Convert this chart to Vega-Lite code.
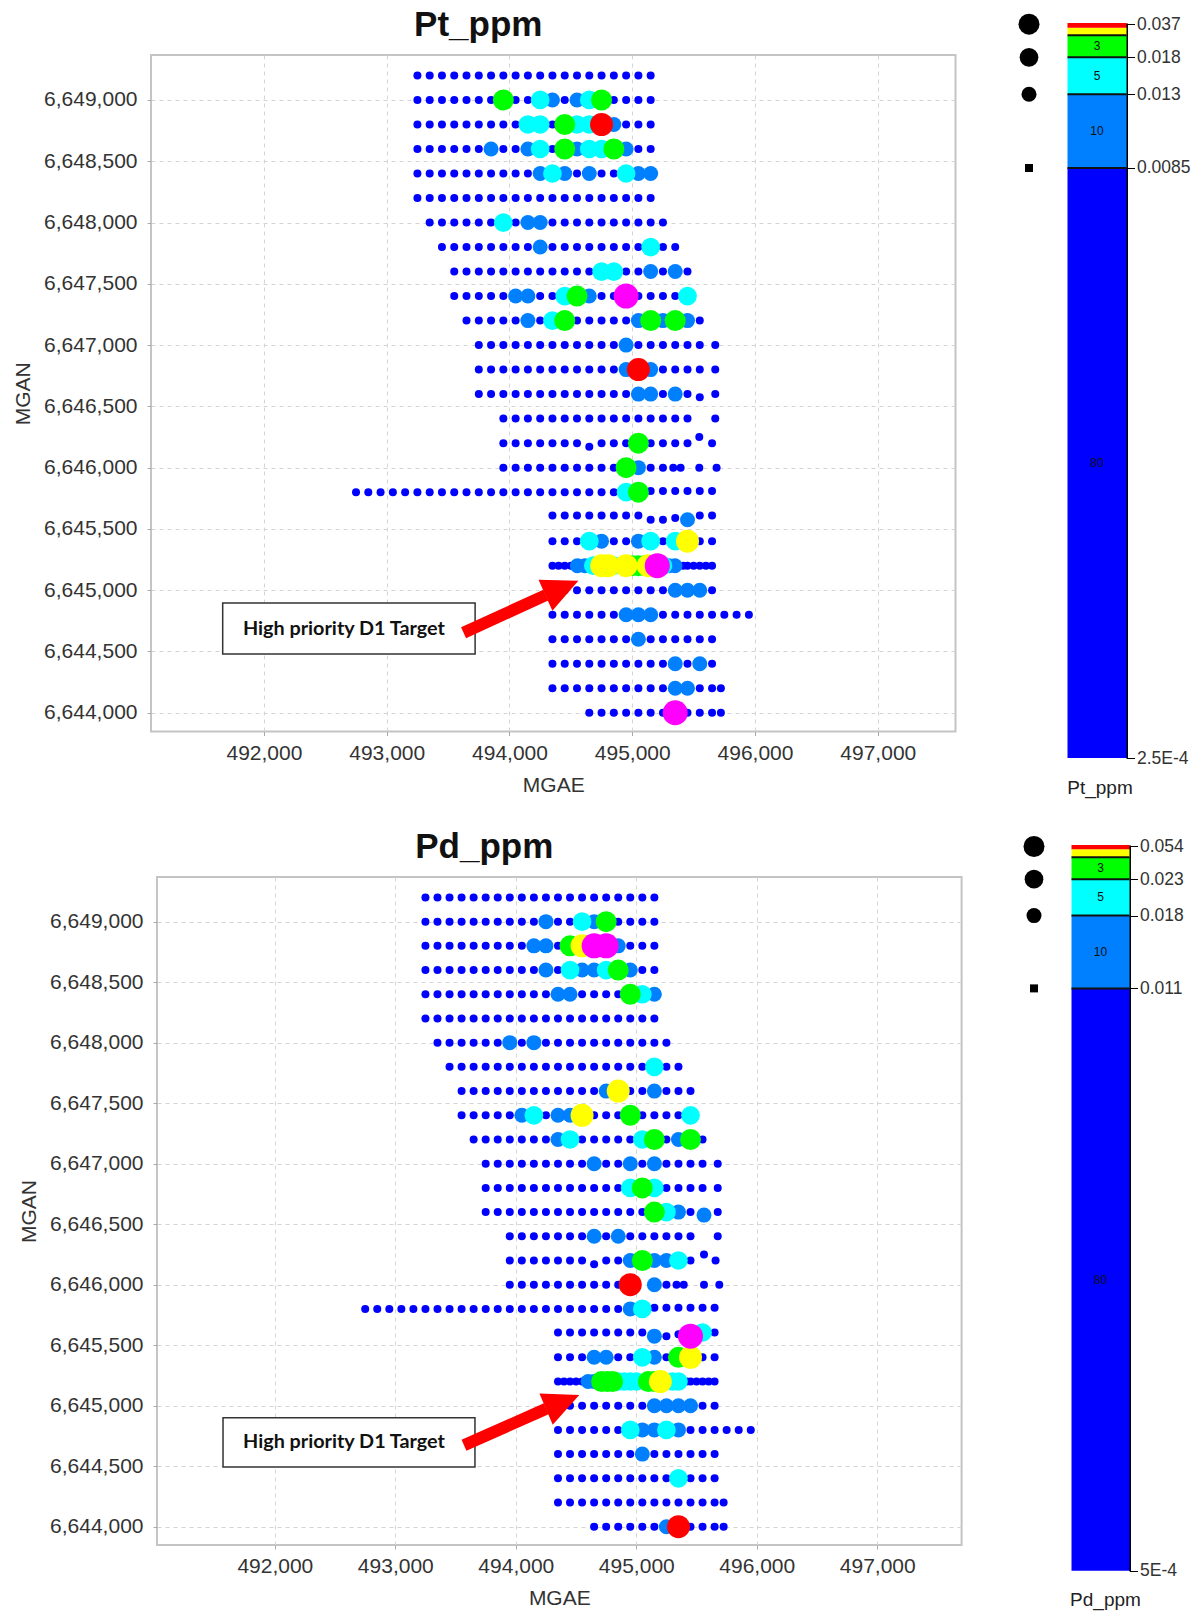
{"$schema":"https://vega.github.io/schema/vega-lite/v6.json","background":"white","padding":{"left":10,"top":7,"right":0,"bottom":0},"config":{"view":{"stroke":null},"font":"Liberation Sans"},"datasets":{"pt":[
{"e":493250,"n":6649200,"c":1},{"e":493350,"n":6649200,"c":1},{"e":493450,"n":6649200,"c":1},{"e":493550,"n":6649200,"c":1},{"e":493650,"n":6649200,"c":1},{"e":493750,"n":6649200,"c":1},{"e":493850,"n":6649200,"c":1},{"e":493950,"n":6649200,"c":1},{"e":494050,"n":6649200,"c":1},{"e":494150,"n":6649200,"c":1},{"e":494250,"n":6649200,"c":1},{"e":494350,"n":6649200,"c":1},{"e":494450,"n":6649200,"c":1},{"e":494550,"n":6649200,"c":1},{"e":494650,"n":6649200,"c":1},{"e":494750,"n":6649200,"c":1},{"e":494850,"n":6649200,"c":1},{"e":494950,"n":6649200,"c":1},{"e":495050,"n":6649200,"c":1},{"e":495150,"n":6649200,"c":1},
{"e":493250,"n":6649000,"c":1},{"e":493350,"n":6649000,"c":1},{"e":493450,"n":6649000,"c":1},{"e":493550,"n":6649000,"c":1},{"e":493650,"n":6649000,"c":1},{"e":493750,"n":6649000,"c":1},{"e":493850,"n":6649000,"c":1},{"e":493950,"n":6649000,"c":4},{"e":494050,"n":6649000,"c":1},{"e":494150,"n":6649000,"c":1},{"e":494250,"n":6649000,"c":3},{"e":494350,"n":6649000,"c":2},{"e":494450,"n":6649000,"c":1},{"e":494550,"n":6649000,"c":2},{"e":494650,"n":6649000,"c":3},{"e":494750,"n":6649000,"c":4},{"e":494850,"n":6649000,"c":1},{"e":494950,"n":6649000,"c":1},{"e":495050,"n":6649000,"c":1},{"e":495150,"n":6649000,"c":1},
{"e":493250,"n":6648800,"c":1},{"e":493350,"n":6648800,"c":1},{"e":493450,"n":6648800,"c":1},{"e":493550,"n":6648800,"c":1},{"e":493650,"n":6648800,"c":1},{"e":493750,"n":6648800,"c":1},{"e":493850,"n":6648800,"c":1},{"e":493950,"n":6648800,"c":1},{"e":494050,"n":6648800,"c":1},{"e":494150,"n":6648800,"c":3},{"e":494250,"n":6648800,"c":3},{"e":494350,"n":6648800,"c":1},{"e":494450,"n":6648800,"c":4},{"e":494550,"n":6648800,"c":3},{"e":494650,"n":6648800,"c":3},{"e":494750,"n":6648800,"c":6},{"e":494850,"n":6648800,"c":2},{"e":494950,"n":6648800,"c":1},{"e":495050,"n":6648800,"c":1},{"e":495150,"n":6648800,"c":1},
{"e":493250,"n":6648600,"c":1},{"e":493350,"n":6648600,"c":1},{"e":493450,"n":6648600,"c":1},{"e":493550,"n":6648600,"c":1},{"e":493650,"n":6648600,"c":1},{"e":493750,"n":6648600,"c":1},{"e":493850,"n":6648600,"c":2},{"e":493950,"n":6648600,"c":1},{"e":494050,"n":6648600,"c":1},{"e":494150,"n":6648600,"c":2},{"e":494250,"n":6648600,"c":3},{"e":494350,"n":6648600,"c":1},{"e":494450,"n":6648600,"c":4},{"e":494550,"n":6648600,"c":2},{"e":494650,"n":6648600,"c":3},{"e":494750,"n":6648600,"c":3},{"e":494850,"n":6648600,"c":4},{"e":494950,"n":6648600,"c":2},{"e":495050,"n":6648600,"c":1},{"e":495150,"n":6648600,"c":1},
{"e":493250,"n":6648400,"c":1},{"e":493350,"n":6648400,"c":1},{"e":493450,"n":6648400,"c":1},{"e":493550,"n":6648400,"c":1},{"e":493650,"n":6648400,"c":1},{"e":493750,"n":6648400,"c":1},{"e":493850,"n":6648400,"c":1},{"e":493950,"n":6648400,"c":1},{"e":494050,"n":6648400,"c":1},{"e":494150,"n":6648400,"c":1},{"e":494250,"n":6648400,"c":2},{"e":494350,"n":6648400,"c":3},{"e":494450,"n":6648400,"c":2},{"e":494550,"n":6648400,"c":1},{"e":494650,"n":6648400,"c":2},{"e":494750,"n":6648400,"c":1},{"e":494850,"n":6648400,"c":1},{"e":494950,"n":6648400,"c":3},{"e":495050,"n":6648400,"c":2},{"e":495150,"n":6648400,"c":2},
{"e":493250,"n":6648200,"c":1},{"e":493350,"n":6648200,"c":1},{"e":493450,"n":6648200,"c":1},{"e":493550,"n":6648200,"c":1},{"e":493650,"n":6648200,"c":1},{"e":493750,"n":6648200,"c":1},{"e":493850,"n":6648200,"c":1},{"e":493950,"n":6648200,"c":1},{"e":494050,"n":6648200,"c":1},{"e":494150,"n":6648200,"c":1},{"e":494250,"n":6648200,"c":1},{"e":494350,"n":6648200,"c":1},{"e":494450,"n":6648200,"c":1},{"e":494550,"n":6648200,"c":1},{"e":494650,"n":6648200,"c":1},{"e":494750,"n":6648200,"c":1},{"e":494850,"n":6648200,"c":1},{"e":494950,"n":6648200,"c":1},{"e":495050,"n":6648200,"c":1},{"e":495150,"n":6648200,"c":1},
{"e":493350,"n":6648000,"c":1},{"e":493450,"n":6648000,"c":1},{"e":493550,"n":6648000,"c":1},{"e":493650,"n":6648000,"c":1},{"e":493750,"n":6648000,"c":1},{"e":493850,"n":6648000,"c":1},{"e":493950,"n":6648000,"c":3},{"e":494050,"n":6648000,"c":1},{"e":494150,"n":6648000,"c":2},{"e":494250,"n":6648000,"c":2},{"e":494350,"n":6648000,"c":1},{"e":494450,"n":6648000,"c":1},{"e":494550,"n":6648000,"c":1},{"e":494650,"n":6648000,"c":1},{"e":494750,"n":6648000,"c":1},{"e":494850,"n":6648000,"c":1},{"e":494950,"n":6648000,"c":1},{"e":495050,"n":6648000,"c":1},{"e":495150,"n":6648000,"c":1},{"e":495250,"n":6648000,"c":1},
{"e":493450,"n":6647800,"c":1},{"e":493550,"n":6647800,"c":1},{"e":493650,"n":6647800,"c":1},{"e":493750,"n":6647800,"c":1},{"e":493850,"n":6647800,"c":1},{"e":493950,"n":6647800,"c":1},{"e":494050,"n":6647800,"c":1},{"e":494150,"n":6647800,"c":1},{"e":494250,"n":6647800,"c":2},{"e":494350,"n":6647800,"c":1},{"e":494450,"n":6647800,"c":1},{"e":494550,"n":6647800,"c":1},{"e":494650,"n":6647800,"c":1},{"e":494750,"n":6647800,"c":1},{"e":494850,"n":6647800,"c":1},{"e":494950,"n":6647800,"c":1},{"e":495050,"n":6647800,"c":1},{"e":495150,"n":6647800,"c":3},{"e":495250,"n":6647800,"c":1},{"e":495350,"n":6647800,"c":1},
{"e":493550,"n":6647600,"c":1},{"e":493650,"n":6647600,"c":1},{"e":493750,"n":6647600,"c":1},{"e":493850,"n":6647600,"c":1},{"e":493950,"n":6647600,"c":1},{"e":494050,"n":6647600,"c":1},{"e":494150,"n":6647600,"c":1},{"e":494250,"n":6647600,"c":1},{"e":494350,"n":6647600,"c":1},{"e":494450,"n":6647600,"c":1},{"e":494550,"n":6647600,"c":1},{"e":494650,"n":6647600,"c":1},{"e":494750,"n":6647600,"c":3},{"e":494850,"n":6647600,"c":3},{"e":494950,"n":6647600,"c":1},{"e":495050,"n":6647600,"c":1},{"e":495150,"n":6647600,"c":2},{"e":495250,"n":6647600,"c":1},{"e":495350,"n":6647600,"c":2},{"e":495450,"n":6647600,"c":1},
{"e":493550,"n":6647400,"c":1},{"e":493650,"n":6647400,"c":1},{"e":493750,"n":6647400,"c":1},{"e":493850,"n":6647400,"c":1},{"e":493950,"n":6647400,"c":1},{"e":494050,"n":6647400,"c":2},{"e":494150,"n":6647400,"c":2},{"e":494250,"n":6647400,"c":1},{"e":494350,"n":6647400,"c":1},{"e":494450,"n":6647400,"c":3},{"e":494550,"n":6647400,"c":4},{"e":494650,"n":6647400,"c":2},{"e":494750,"n":6647400,"c":1},{"e":494850,"n":6647400,"c":1},{"e":494950,"n":6647400,"c":7},{"e":495050,"n":6647400,"c":1},{"e":495150,"n":6647400,"c":1},{"e":495250,"n":6647400,"c":1},{"e":495350,"n":6647400,"c":1},{"e":495450,"n":6647400,"c":3},
{"e":493650,"n":6647200,"c":1},{"e":493750,"n":6647200,"c":1},{"e":493850,"n":6647200,"c":1},{"e":493950,"n":6647200,"c":1},{"e":494050,"n":6647200,"c":1},{"e":494150,"n":6647200,"c":2},{"e":494250,"n":6647200,"c":1},{"e":494350,"n":6647200,"c":3},{"e":494450,"n":6647200,"c":4},{"e":494550,"n":6647200,"c":1},{"e":494650,"n":6647200,"c":1},{"e":494750,"n":6647200,"c":1},{"e":494850,"n":6647200,"c":1},{"e":494950,"n":6647200,"c":1},{"e":495050,"n":6647200,"c":2},{"e":495150,"n":6647200,"c":4},{"e":495250,"n":6647200,"c":2},{"e":495350,"n":6647200,"c":4},{"e":495450,"n":6647200,"c":2},{"e":495550,"n":6647200,"c":1},
{"e":493750,"n":6647000,"c":1},{"e":493850,"n":6647000,"c":1},{"e":493950,"n":6647000,"c":1},{"e":494050,"n":6647000,"c":1},{"e":494150,"n":6647000,"c":1},{"e":494250,"n":6647000,"c":1},{"e":494350,"n":6647000,"c":1},{"e":494450,"n":6647000,"c":1},{"e":494550,"n":6647000,"c":1},{"e":494650,"n":6647000,"c":1},{"e":494750,"n":6647000,"c":1},{"e":494850,"n":6647000,"c":1},{"e":494950,"n":6647000,"c":2},{"e":495050,"n":6647000,"c":1},{"e":495150,"n":6647000,"c":1},{"e":495250,"n":6647000,"c":1},{"e":495350,"n":6647000,"c":1},{"e":495450,"n":6647000,"c":1},{"e":495550,"n":6647000,"c":1},{"e":495676,"n":6647000,"c":1},
{"e":493750,"n":6646800,"c":1},{"e":493850,"n":6646800,"c":1},{"e":493950,"n":6646800,"c":1},{"e":494050,"n":6646800,"c":1},{"e":494150,"n":6646800,"c":1},{"e":494250,"n":6646800,"c":1},{"e":494350,"n":6646800,"c":1},{"e":494450,"n":6646800,"c":1},{"e":494550,"n":6646800,"c":1},{"e":494650,"n":6646800,"c":1},{"e":494750,"n":6646800,"c":1},{"e":494850,"n":6646800,"c":1},{"e":494950,"n":6646800,"c":2},{"e":495050,"n":6646800,"c":6},{"e":495150,"n":6646800,"c":2},{"e":495250,"n":6646800,"c":1},{"e":495350,"n":6646800,"c":1},{"e":495450,"n":6646800,"c":1},{"e":495550,"n":6646800,"c":1},{"e":495676,"n":6646800,"c":1},
{"e":493750,"n":6646600,"c":1},{"e":493850,"n":6646600,"c":1},{"e":493950,"n":6646600,"c":1},{"e":494050,"n":6646600,"c":1},{"e":494150,"n":6646600,"c":1},{"e":494250,"n":6646600,"c":1},{"e":494350,"n":6646600,"c":1},{"e":494450,"n":6646600,"c":1},{"e":494550,"n":6646600,"c":1},{"e":494650,"n":6646600,"c":1},{"e":494750,"n":6646600,"c":1},{"e":494850,"n":6646600,"c":1},{"e":494950,"n":6646600,"c":1},{"e":495050,"n":6646600,"c":2},{"e":495150,"n":6646600,"c":2},{"e":495250,"n":6646600,"c":1},{"e":495350,"n":6646600,"c":2},{"e":495450,"n":6646600,"c":1},{"e":495550,"n":6646575,"c":1},{"e":495676,"n":6646600,"c":1},
{"e":493950,"n":6646400,"c":1},{"e":494050,"n":6646400,"c":1},{"e":494150,"n":6646400,"c":1},{"e":494250,"n":6646400,"c":1},{"e":494350,"n":6646400,"c":1},{"e":494450,"n":6646400,"c":1},{"e":494550,"n":6646400,"c":1},{"e":494650,"n":6646400,"c":1},{"e":494750,"n":6646400,"c":1},{"e":494850,"n":6646400,"c":1},{"e":494950,"n":6646400,"c":1},{"e":495050,"n":6646400,"c":1},{"e":495150,"n":6646400,"c":1},{"e":495250,"n":6646400,"c":1},{"e":495350,"n":6646400,"c":1},{"e":495450,"n":6646400,"c":1},{"e":495676,"n":6646400,"c":1},
{"e":493950,"n":6646200,"c":1},{"e":494050,"n":6646200,"c":1},{"e":494150,"n":6646200,"c":1},{"e":494250,"n":6646200,"c":1},{"e":494350,"n":6646200,"c":1},{"e":494450,"n":6646200,"c":1},{"e":494550,"n":6646200,"c":1},{"e":494650,"n":6646170,"c":1},{"e":494750,"n":6646200,"c":1},{"e":494850,"n":6646200,"c":1},{"e":494950,"n":6646200,"c":1},{"e":495050,"n":6646200,"c":4},{"e":495150,"n":6646200,"c":1},{"e":495250,"n":6646200,"c":1},{"e":495350,"n":6646200,"c":1},{"e":495450,"n":6646200,"c":1},{"e":495546,"n":6646250,"c":1},{"e":495650,"n":6646200,"c":1},
{"e":493950,"n":6646000,"c":1},{"e":494050,"n":6646000,"c":1},{"e":494150,"n":6646000,"c":1},{"e":494250,"n":6646000,"c":1},{"e":494350,"n":6646000,"c":1},{"e":494450,"n":6646000,"c":1},{"e":494550,"n":6646000,"c":1},{"e":494650,"n":6646000,"c":1},{"e":494750,"n":6646000,"c":1},{"e":494850,"n":6646000,"c":1},{"e":494950,"n":6646000,"c":4},{"e":495050,"n":6646000,"c":2},{"e":495150,"n":6646000,"c":1},{"e":495250,"n":6646000,"c":1},{"e":495334,"n":6646000,"c":1},{"e":495394,"n":6646000,"c":1},{"e":495546,"n":6646000,"c":1},{"e":495687,"n":6646000,"c":1},
{"e":492750,"n":6645800,"c":1},{"e":492850,"n":6645800,"c":1},{"e":492950,"n":6645800,"c":1},{"e":493050,"n":6645800,"c":1},{"e":493150,"n":6645800,"c":1},{"e":493250,"n":6645800,"c":1},{"e":493350,"n":6645800,"c":1},{"e":493450,"n":6645800,"c":1},{"e":493550,"n":6645800,"c":1},{"e":493650,"n":6645800,"c":1},{"e":493750,"n":6645800,"c":1},{"e":493850,"n":6645800,"c":1},{"e":493950,"n":6645800,"c":1},{"e":494050,"n":6645800,"c":1},{"e":494150,"n":6645800,"c":1},{"e":494250,"n":6645800,"c":1},{"e":494350,"n":6645800,"c":1},{"e":494450,"n":6645800,"c":1},{"e":494550,"n":6645800,"c":1},{"e":494650,"n":6645800,"c":1},{"e":494750,"n":6645800,"c":1},{"e":494850,"n":6645800,"c":1},{"e":494950,"n":6645800,"c":3},{"e":495050,"n":6645800,"c":4},{"e":495150,"n":6645810,"c":1},{"e":495250,"n":6645810,"c":1},{"e":495350,"n":6645810,"c":1},{"e":495450,"n":6645810,"c":1},{"e":495550,"n":6645810,"c":1},{"e":495650,"n":6645810,"c":1},
{"e":494350,"n":6645610,"c":1},{"e":494450,"n":6645610,"c":1},{"e":494550,"n":6645610,"c":1},{"e":494650,"n":6645610,"c":1},{"e":494750,"n":6645610,"c":1},{"e":494850,"n":6645610,"c":1},{"e":494950,"n":6645610,"c":1},{"e":495050,"n":6645610,"c":1},{"e":495150,"n":6645575,"c":1},{"e":495250,"n":6645575,"c":1},{"e":495350,"n":6645590,"c":1},{"e":495450,"n":6645575,"c":2},{"e":495550,"n":6645610,"c":1},{"e":495650,"n":6645610,"c":1},
{"e":494350,"n":6645400,"c":1},{"e":494450,"n":6645400,"c":1},{"e":494550,"n":6645400,"c":1},{"e":494650,"n":6645400,"c":3},{"e":494750,"n":6645400,"c":2},{"e":494850,"n":6645400,"c":1},{"e":494950,"n":6645400,"c":1},{"e":495050,"n":6645400,"c":2},{"e":495150,"n":6645400,"c":3},{"e":495250,"n":6645400,"c":1},{"e":495350,"n":6645400,"c":3},{"e":495450,"n":6645400,"c":5},{"e":495550,"n":6645400,"c":1},{"e":495650,"n":6645400,"c":1},
{"e":494350,"n":6645200,"c":1},{"e":494400,"n":6645200,"c":1},{"e":494450,"n":6645200,"c":1},{"e":494500,"n":6645200,"c":1},{"e":494553,"n":6645200,"c":2},{"e":494615,"n":6645200,"c":2},{"e":494683,"n":6645200,"c":3},{"e":494751,"n":6645200,"c":5},{"e":494805,"n":6645200,"c":5},{"e":494850,"n":6645200,"c":3},{"e":494949,"n":6645200,"c":5},{"e":495000,"n":6645200,"c":4},{"e":495050,"n":6645200,"c":4},{"e":495100,"n":6645200,"c":4},{"e":495130,"n":6645200,"c":5},{"e":495204,"n":6645200,"c":7},{"e":495250,"n":6645200,"c":3},{"e":495300,"n":6645200,"c":2},{"e":495348,"n":6645200,"c":2},{"e":495416,"n":6645200,"c":1},{"e":495450,"n":6645200,"c":1},{"e":495500,"n":6645200,"c":1},{"e":495550,"n":6645200,"c":1},{"e":495600,"n":6645200,"c":1},{"e":495650,"n":6645200,"c":1},
{"e":494350,"n":6645000,"c":1},{"e":494450,"n":6645000,"c":1},{"e":494550,"n":6645000,"c":1},{"e":494650,"n":6645000,"c":1},{"e":494750,"n":6645000,"c":1},{"e":494850,"n":6645000,"c":1},{"e":494950,"n":6645000,"c":1},{"e":495050,"n":6645000,"c":1},{"e":495150,"n":6645000,"c":1},{"e":495250,"n":6645000,"c":1},{"e":495350,"n":6645000,"c":2},{"e":495450,"n":6645000,"c":2},{"e":495550,"n":6645000,"c":2},{"e":495650,"n":6645000,"c":1},
{"e":494350,"n":6644800,"c":1},{"e":494450,"n":6644800,"c":1},{"e":494550,"n":6644800,"c":1},{"e":494650,"n":6644800,"c":1},{"e":494750,"n":6644800,"c":1},{"e":494850,"n":6644800,"c":1},{"e":494950,"n":6644800,"c":2},{"e":495050,"n":6644800,"c":2},{"e":495150,"n":6644800,"c":2},{"e":495250,"n":6644800,"c":1},{"e":495350,"n":6644800,"c":1},{"e":495450,"n":6644800,"c":1},{"e":495550,"n":6644800,"c":1},{"e":495650,"n":6644800,"c":1},{"e":495750,"n":6644800,"c":1},{"e":495850,"n":6644800,"c":1},{"e":495950,"n":6644800,"c":1},
{"e":494350,"n":6644600,"c":1},{"e":494450,"n":6644600,"c":1},{"e":494550,"n":6644600,"c":1},{"e":494650,"n":6644600,"c":1},{"e":494750,"n":6644600,"c":1},{"e":494850,"n":6644600,"c":1},{"e":494950,"n":6644600,"c":1},{"e":495050,"n":6644600,"c":2},{"e":495150,"n":6644600,"c":1},{"e":495250,"n":6644600,"c":1},{"e":495350,"n":6644600,"c":1},{"e":495450,"n":6644600,"c":1},{"e":495550,"n":6644600,"c":1},{"e":495650,"n":6644600,"c":1},
{"e":494350,"n":6644400,"c":1},{"e":494450,"n":6644400,"c":1},{"e":494550,"n":6644400,"c":1},{"e":494650,"n":6644400,"c":1},{"e":494750,"n":6644400,"c":1},{"e":494850,"n":6644400,"c":1},{"e":494950,"n":6644400,"c":1},{"e":495050,"n":6644400,"c":1},{"e":495150,"n":6644400,"c":1},{"e":495250,"n":6644400,"c":1},{"e":495350,"n":6644400,"c":2},{"e":495450,"n":6644400,"c":1},{"e":495550,"n":6644400,"c":2},{"e":495650,"n":6644400,"c":1},
{"e":494350,"n":6644200,"c":1},{"e":494450,"n":6644200,"c":1},{"e":494550,"n":6644200,"c":1},{"e":494650,"n":6644200,"c":1},{"e":494750,"n":6644200,"c":1},{"e":494850,"n":6644200,"c":1},{"e":494950,"n":6644200,"c":1},{"e":495050,"n":6644200,"c":1},{"e":495150,"n":6644200,"c":1},{"e":495250,"n":6644200,"c":1},{"e":495350,"n":6644200,"c":2},{"e":495450,"n":6644200,"c":2},{"e":495550,"n":6644200,"c":1},{"e":495650,"n":6644200,"c":1},{"e":495722,"n":6644200,"c":1},
{"e":494650,"n":6644000,"c":1},{"e":494750,"n":6644000,"c":1},{"e":494850,"n":6644000,"c":1},{"e":494950,"n":6644000,"c":1},{"e":495050,"n":6644000,"c":1},{"e":495150,"n":6644000,"c":1},{"e":495250,"n":6644000,"c":1},{"e":495350,"n":6644000,"c":7},{"e":495450,"n":6644000,"c":1},{"e":495550,"n":6644000,"c":1},{"e":495650,"n":6644000,"c":1},{"e":495722,"n":6644000,"c":1}
],"pd":[
{"e":493250,"n":6649200,"c":1},{"e":493350,"n":6649200,"c":1},{"e":493450,"n":6649200,"c":1},{"e":493550,"n":6649200,"c":1},{"e":493650,"n":6649200,"c":1},{"e":493750,"n":6649200,"c":1},{"e":493850,"n":6649200,"c":1},{"e":493950,"n":6649200,"c":1},{"e":494050,"n":6649200,"c":1},{"e":494150,"n":6649200,"c":1},{"e":494250,"n":6649200,"c":1},{"e":494350,"n":6649200,"c":1},{"e":494450,"n":6649200,"c":1},{"e":494550,"n":6649200,"c":1},{"e":494650,"n":6649200,"c":1},{"e":494750,"n":6649200,"c":1},{"e":494850,"n":6649200,"c":1},{"e":494950,"n":6649200,"c":1},{"e":495050,"n":6649200,"c":1},{"e":495150,"n":6649200,"c":1},
{"e":493250,"n":6649000,"c":1},{"e":493350,"n":6649000,"c":1},{"e":493450,"n":6649000,"c":1},{"e":493550,"n":6649000,"c":1},{"e":493650,"n":6649000,"c":1},{"e":493750,"n":6649000,"c":1},{"e":493850,"n":6649000,"c":1},{"e":493950,"n":6649000,"c":1},{"e":494050,"n":6649000,"c":1},{"e":494150,"n":6649000,"c":1},{"e":494250,"n":6649000,"c":2},{"e":494350,"n":6649000,"c":1},{"e":494450,"n":6649000,"c":1},{"e":494550,"n":6649000,"c":3},{"e":494650,"n":6649000,"c":2},{"e":494750,"n":6649000,"c":4},{"e":494850,"n":6649000,"c":1},{"e":494950,"n":6649000,"c":1},{"e":495050,"n":6649000,"c":1},{"e":495150,"n":6649000,"c":1},
{"e":493250,"n":6648800,"c":1},{"e":493350,"n":6648800,"c":1},{"e":493450,"n":6648800,"c":1},{"e":493550,"n":6648800,"c":1},{"e":493650,"n":6648800,"c":1},{"e":493750,"n":6648800,"c":1},{"e":493850,"n":6648800,"c":1},{"e":493950,"n":6648800,"c":1},{"e":494050,"n":6648800,"c":1},{"e":494150,"n":6648800,"c":2},{"e":494250,"n":6648800,"c":2},{"e":494350,"n":6648800,"c":1},{"e":494450,"n":6648800,"c":4},{"e":494550,"n":6648800,"c":5},{"e":494650,"n":6648800,"c":7},{"e":494750,"n":6648800,"c":7},{"e":494850,"n":6648800,"c":2},{"e":494950,"n":6648800,"c":1},{"e":495050,"n":6648800,"c":1},{"e":495150,"n":6648800,"c":1},
{"e":493250,"n":6648600,"c":1},{"e":493350,"n":6648600,"c":1},{"e":493450,"n":6648600,"c":1},{"e":493550,"n":6648600,"c":1},{"e":493650,"n":6648600,"c":1},{"e":493750,"n":6648600,"c":1},{"e":493850,"n":6648600,"c":1},{"e":493950,"n":6648600,"c":1},{"e":494050,"n":6648600,"c":1},{"e":494150,"n":6648600,"c":1},{"e":494250,"n":6648600,"c":2},{"e":494350,"n":6648600,"c":1},{"e":494450,"n":6648600,"c":3},{"e":494550,"n":6648600,"c":2},{"e":494650,"n":6648600,"c":2},{"e":494750,"n":6648600,"c":3},{"e":494850,"n":6648600,"c":4},{"e":494950,"n":6648600,"c":2},{"e":495050,"n":6648600,"c":1},{"e":495150,"n":6648600,"c":1},
{"e":493250,"n":6648400,"c":1},{"e":493350,"n":6648400,"c":1},{"e":493450,"n":6648400,"c":1},{"e":493550,"n":6648400,"c":1},{"e":493650,"n":6648400,"c":1},{"e":493750,"n":6648400,"c":1},{"e":493850,"n":6648400,"c":1},{"e":493950,"n":6648400,"c":1},{"e":494050,"n":6648400,"c":1},{"e":494150,"n":6648400,"c":1},{"e":494250,"n":6648400,"c":1},{"e":494350,"n":6648400,"c":2},{"e":494450,"n":6648400,"c":2},{"e":494550,"n":6648400,"c":1},{"e":494650,"n":6648400,"c":1},{"e":494750,"n":6648400,"c":1},{"e":494850,"n":6648400,"c":1},{"e":494950,"n":6648400,"c":4},{"e":495050,"n":6648400,"c":3},{"e":495150,"n":6648400,"c":2},
{"e":493250,"n":6648200,"c":1},{"e":493350,"n":6648200,"c":1},{"e":493450,"n":6648200,"c":1},{"e":493550,"n":6648200,"c":1},{"e":493650,"n":6648200,"c":1},{"e":493750,"n":6648200,"c":1},{"e":493850,"n":6648200,"c":1},{"e":493950,"n":6648200,"c":1},{"e":494050,"n":6648200,"c":1},{"e":494150,"n":6648200,"c":1},{"e":494250,"n":6648200,"c":1},{"e":494350,"n":6648200,"c":1},{"e":494450,"n":6648200,"c":1},{"e":494550,"n":6648200,"c":1},{"e":494650,"n":6648200,"c":1},{"e":494750,"n":6648200,"c":1},{"e":494850,"n":6648200,"c":1},{"e":494950,"n":6648200,"c":1},{"e":495050,"n":6648200,"c":1},{"e":495150,"n":6648200,"c":1},
{"e":493350,"n":6648000,"c":1},{"e":493450,"n":6648000,"c":1},{"e":493550,"n":6648000,"c":1},{"e":493650,"n":6648000,"c":1},{"e":493750,"n":6648000,"c":1},{"e":493850,"n":6648000,"c":1},{"e":493950,"n":6648000,"c":2},{"e":494050,"n":6648000,"c":1},{"e":494150,"n":6648000,"c":2},{"e":494250,"n":6648000,"c":1},{"e":494350,"n":6648000,"c":1},{"e":494450,"n":6648000,"c":1},{"e":494550,"n":6648000,"c":1},{"e":494650,"n":6648000,"c":1},{"e":494750,"n":6648000,"c":1},{"e":494850,"n":6648000,"c":1},{"e":494950,"n":6648000,"c":1},{"e":495050,"n":6648000,"c":1},{"e":495150,"n":6648000,"c":1},{"e":495250,"n":6648000,"c":1},
{"e":493450,"n":6647800,"c":1},{"e":493550,"n":6647800,"c":1},{"e":493650,"n":6647800,"c":1},{"e":493750,"n":6647800,"c":1},{"e":493850,"n":6647800,"c":1},{"e":493950,"n":6647800,"c":1},{"e":494050,"n":6647800,"c":1},{"e":494150,"n":6647800,"c":1},{"e":494250,"n":6647800,"c":1},{"e":494350,"n":6647800,"c":1},{"e":494450,"n":6647800,"c":1},{"e":494550,"n":6647800,"c":1},{"e":494650,"n":6647800,"c":1},{"e":494750,"n":6647800,"c":1},{"e":494850,"n":6647800,"c":1},{"e":494950,"n":6647800,"c":1},{"e":495050,"n":6647800,"c":1},{"e":495150,"n":6647800,"c":3},{"e":495250,"n":6647800,"c":1},{"e":495350,"n":6647800,"c":1},
{"e":493550,"n":6647600,"c":1},{"e":493650,"n":6647600,"c":1},{"e":493750,"n":6647600,"c":1},{"e":493850,"n":6647600,"c":1},{"e":493950,"n":6647600,"c":1},{"e":494050,"n":6647600,"c":1},{"e":494150,"n":6647600,"c":1},{"e":494250,"n":6647600,"c":1},{"e":494350,"n":6647600,"c":1},{"e":494450,"n":6647600,"c":1},{"e":494550,"n":6647600,"c":1},{"e":494650,"n":6647600,"c":1},{"e":494750,"n":6647600,"c":2},{"e":494850,"n":6647600,"c":5},{"e":494950,"n":6647600,"c":1},{"e":495050,"n":6647600,"c":1},{"e":495150,"n":6647600,"c":2},{"e":495250,"n":6647600,"c":1},{"e":495350,"n":6647600,"c":1},{"e":495450,"n":6647600,"c":1},
{"e":493550,"n":6647400,"c":1},{"e":493650,"n":6647400,"c":1},{"e":493750,"n":6647400,"c":1},{"e":493850,"n":6647400,"c":1},{"e":493950,"n":6647400,"c":1},{"e":494050,"n":6647400,"c":2},{"e":494150,"n":6647400,"c":3},{"e":494250,"n":6647400,"c":1},{"e":494350,"n":6647400,"c":2},{"e":494450,"n":6647400,"c":2},{"e":494550,"n":6647400,"c":5},{"e":494650,"n":6647400,"c":1},{"e":494750,"n":6647400,"c":1},{"e":494850,"n":6647400,"c":1},{"e":494950,"n":6647400,"c":4},{"e":495050,"n":6647400,"c":1},{"e":495150,"n":6647400,"c":1},{"e":495250,"n":6647400,"c":1},{"e":495350,"n":6647400,"c":1},{"e":495450,"n":6647400,"c":3},
{"e":493650,"n":6647200,"c":1},{"e":493750,"n":6647200,"c":1},{"e":493850,"n":6647200,"c":1},{"e":493950,"n":6647200,"c":1},{"e":494050,"n":6647200,"c":1},{"e":494150,"n":6647200,"c":1},{"e":494250,"n":6647200,"c":1},{"e":494350,"n":6647200,"c":2},{"e":494450,"n":6647200,"c":3},{"e":494550,"n":6647200,"c":1},{"e":494650,"n":6647200,"c":1},{"e":494750,"n":6647200,"c":1},{"e":494850,"n":6647200,"c":1},{"e":494950,"n":6647200,"c":1},{"e":495050,"n":6647200,"c":3},{"e":495150,"n":6647200,"c":4},{"e":495250,"n":6647200,"c":1},{"e":495350,"n":6647200,"c":2},{"e":495450,"n":6647200,"c":4},{"e":495550,"n":6647200,"c":1},
{"e":493750,"n":6647000,"c":1},{"e":493850,"n":6647000,"c":1},{"e":493950,"n":6647000,"c":1},{"e":494050,"n":6647000,"c":1},{"e":494150,"n":6647000,"c":1},{"e":494250,"n":6647000,"c":1},{"e":494350,"n":6647000,"c":1},{"e":494450,"n":6647000,"c":1},{"e":494550,"n":6647000,"c":1},{"e":494650,"n":6647000,"c":2},{"e":494750,"n":6647000,"c":1},{"e":494850,"n":6647000,"c":1},{"e":494950,"n":6647000,"c":2},{"e":495050,"n":6647000,"c":1},{"e":495150,"n":6647000,"c":2},{"e":495250,"n":6647000,"c":1},{"e":495350,"n":6647000,"c":1},{"e":495450,"n":6647000,"c":1},{"e":495550,"n":6647000,"c":1},{"e":495676,"n":6647000,"c":1},
{"e":493750,"n":6646800,"c":1},{"e":493850,"n":6646800,"c":1},{"e":493950,"n":6646800,"c":1},{"e":494050,"n":6646800,"c":1},{"e":494150,"n":6646800,"c":1},{"e":494250,"n":6646800,"c":1},{"e":494350,"n":6646800,"c":1},{"e":494450,"n":6646800,"c":1},{"e":494550,"n":6646800,"c":1},{"e":494650,"n":6646800,"c":1},{"e":494750,"n":6646800,"c":1},{"e":494850,"n":6646800,"c":1},{"e":494950,"n":6646800,"c":3},{"e":495050,"n":6646800,"c":4},{"e":495150,"n":6646800,"c":3},{"e":495250,"n":6646800,"c":1},{"e":495350,"n":6646800,"c":1},{"e":495450,"n":6646800,"c":1},{"e":495550,"n":6646800,"c":1},{"e":495676,"n":6646800,"c":1},
{"e":493750,"n":6646600,"c":1},{"e":493850,"n":6646600,"c":1},{"e":493950,"n":6646600,"c":1},{"e":494050,"n":6646600,"c":1},{"e":494150,"n":6646600,"c":1},{"e":494250,"n":6646600,"c":1},{"e":494350,"n":6646600,"c":1},{"e":494450,"n":6646600,"c":1},{"e":494550,"n":6646600,"c":1},{"e":494650,"n":6646600,"c":1},{"e":494750,"n":6646600,"c":1},{"e":494850,"n":6646600,"c":1},{"e":494950,"n":6646600,"c":1},{"e":495050,"n":6646600,"c":1},{"e":495150,"n":6646600,"c":4},{"e":495250,"n":6646600,"c":3},{"e":495350,"n":6646600,"c":2},{"e":495450,"n":6646600,"c":1},{"e":495562,"n":6646575,"c":2},{"e":495676,"n":6646600,"c":1},
{"e":493950,"n":6646400,"c":1},{"e":494050,"n":6646400,"c":1},{"e":494150,"n":6646400,"c":1},{"e":494250,"n":6646400,"c":1},{"e":494350,"n":6646400,"c":1},{"e":494450,"n":6646400,"c":1},{"e":494550,"n":6646400,"c":1},{"e":494650,"n":6646400,"c":2},{"e":494750,"n":6646400,"c":1},{"e":494850,"n":6646400,"c":2},{"e":494950,"n":6646400,"c":1},{"e":495050,"n":6646400,"c":1},{"e":495150,"n":6646400,"c":1},{"e":495250,"n":6646400,"c":1},{"e":495350,"n":6646400,"c":1},{"e":495450,"n":6646400,"c":1},{"e":495676,"n":6646400,"c":1},
{"e":493950,"n":6646200,"c":1},{"e":494050,"n":6646200,"c":1},{"e":494150,"n":6646200,"c":1},{"e":494250,"n":6646200,"c":1},{"e":494350,"n":6646200,"c":1},{"e":494450,"n":6646200,"c":1},{"e":494550,"n":6646200,"c":1},{"e":494650,"n":6646170,"c":1},{"e":494750,"n":6646200,"c":1},{"e":494850,"n":6646200,"c":1},{"e":494950,"n":6646200,"c":2},{"e":495050,"n":6646200,"c":4},{"e":495150,"n":6646200,"c":2},{"e":495250,"n":6646200,"c":2},{"e":495350,"n":6646200,"c":3},{"e":495450,"n":6646200,"c":1},{"e":495562,"n":6646250,"c":1},{"e":495658,"n":6646200,"c":1},
{"e":493950,"n":6646000,"c":1},{"e":494050,"n":6646000,"c":1},{"e":494150,"n":6646000,"c":1},{"e":494250,"n":6646000,"c":1},{"e":494350,"n":6646000,"c":1},{"e":494450,"n":6646000,"c":1},{"e":494550,"n":6646000,"c":1},{"e":494650,"n":6646000,"c":1},{"e":494750,"n":6646000,"c":1},{"e":494850,"n":6646000,"c":1},{"e":494950,"n":6646000,"c":6},{"e":495150,"n":6646000,"c":2},{"e":495250,"n":6646000,"c":1},{"e":495334,"n":6646000,"c":1},{"e":495394,"n":6646000,"c":1},{"e":495562,"n":6646000,"c":1},{"e":495689,"n":6646000,"c":1},
{"e":492750,"n":6645800,"c":1},{"e":492850,"n":6645800,"c":1},{"e":492950,"n":6645800,"c":1},{"e":493050,"n":6645800,"c":1},{"e":493150,"n":6645800,"c":1},{"e":493250,"n":6645800,"c":1},{"e":493350,"n":6645800,"c":1},{"e":493450,"n":6645800,"c":1},{"e":493550,"n":6645800,"c":1},{"e":493650,"n":6645800,"c":1},{"e":493750,"n":6645800,"c":1},{"e":493850,"n":6645800,"c":1},{"e":493950,"n":6645800,"c":1},{"e":494050,"n":6645800,"c":1},{"e":494150,"n":6645800,"c":1},{"e":494250,"n":6645800,"c":1},{"e":494350,"n":6645800,"c":1},{"e":494450,"n":6645800,"c":1},{"e":494550,"n":6645800,"c":1},{"e":494650,"n":6645800,"c":1},{"e":494750,"n":6645800,"c":1},{"e":494850,"n":6645800,"c":1},{"e":494950,"n":6645800,"c":2},{"e":495050,"n":6645800,"c":3},{"e":495150,"n":6645810,"c":1},{"e":495250,"n":6645810,"c":1},{"e":495350,"n":6645810,"c":1},{"e":495450,"n":6645810,"c":1},{"e":495550,"n":6645810,"c":1},{"e":495650,"n":6645810,"c":1},
{"e":494350,"n":6645605,"c":1},{"e":494450,"n":6645605,"c":1},{"e":494550,"n":6645605,"c":1},{"e":494650,"n":6645605,"c":1},{"e":494750,"n":6645605,"c":1},{"e":494850,"n":6645605,"c":1},{"e":494950,"n":6645605,"c":1},{"e":495050,"n":6645605,"c":1},{"e":495150,"n":6645575,"c":2},{"e":495250,"n":6645575,"c":1},{"e":495350,"n":6645590,"c":1},{"e":495450,"n":6645575,"c":7},{"e":495550,"n":6645605,"c":3},{"e":495650,"n":6645605,"c":1},
{"e":494350,"n":6645400,"c":1},{"e":494450,"n":6645400,"c":1},{"e":494550,"n":6645400,"c":1},{"e":494650,"n":6645400,"c":2},{"e":494750,"n":6645400,"c":2},{"e":494850,"n":6645400,"c":1},{"e":494950,"n":6645400,"c":1},{"e":495050,"n":6645400,"c":3},{"e":495150,"n":6645400,"c":2},{"e":495250,"n":6645400,"c":1},{"e":495350,"n":6645400,"c":4},{"e":495450,"n":6645400,"c":5},{"e":495550,"n":6645400,"c":1},{"e":495650,"n":6645400,"c":1},
{"e":494350,"n":6645200,"c":1},{"e":494400,"n":6645200,"c":1},{"e":494450,"n":6645200,"c":1},{"e":494500,"n":6645200,"c":1},{"e":494550,"n":6645200,"c":1},{"e":494600,"n":6645200,"c":2},{"e":494650,"n":6645200,"c":2},{"e":494712,"n":6645200,"c":4},{"e":494760,"n":6645200,"c":4},{"e":494803,"n":6645200,"c":4},{"e":494850,"n":6645200,"c":3},{"e":494900,"n":6645200,"c":3},{"e":494950,"n":6645200,"c":3},{"e":495000,"n":6645200,"c":3},{"e":495100,"n":6645200,"c":4},{"e":495150,"n":6645200,"c":4},{"e":495200,"n":6645200,"c":5},{"e":495250,"n":6645200,"c":2},{"e":495300,"n":6645200,"c":3},{"e":495350,"n":6645200,"c":3},{"e":495418,"n":6645200,"c":1},{"e":495450,"n":6645200,"c":1},{"e":495500,"n":6645200,"c":1},{"e":495550,"n":6645200,"c":1},{"e":495600,"n":6645200,"c":1},{"e":495650,"n":6645200,"c":1},
{"e":494350,"n":6645000,"c":1},{"e":494450,"n":6645000,"c":1},{"e":494550,"n":6645000,"c":1},{"e":494650,"n":6645000,"c":1},{"e":494750,"n":6645000,"c":1},{"e":494850,"n":6645000,"c":1},{"e":494950,"n":6645000,"c":1},{"e":495050,"n":6645000,"c":1},{"e":495150,"n":6645000,"c":2},{"e":495250,"n":6645000,"c":2},{"e":495350,"n":6645000,"c":2},{"e":495450,"n":6645000,"c":2},{"e":495550,"n":6645000,"c":1},{"e":495650,"n":6645000,"c":1},
{"e":494350,"n":6644800,"c":1},{"e":494450,"n":6644800,"c":1},{"e":494550,"n":6644800,"c":1},{"e":494650,"n":6644800,"c":1},{"e":494750,"n":6644800,"c":1},{"e":494850,"n":6644800,"c":1},{"e":494950,"n":6644800,"c":3},{"e":495050,"n":6644800,"c":2},{"e":495150,"n":6644800,"c":2},{"e":495250,"n":6644800,"c":3},{"e":495350,"n":6644800,"c":2},{"e":495450,"n":6644800,"c":1},{"e":495550,"n":6644800,"c":1},{"e":495650,"n":6644800,"c":1},{"e":495750,"n":6644800,"c":1},{"e":495850,"n":6644800,"c":1},{"e":495950,"n":6644800,"c":1},
{"e":494350,"n":6644600,"c":1},{"e":494450,"n":6644600,"c":1},{"e":494550,"n":6644600,"c":1},{"e":494650,"n":6644600,"c":1},{"e":494750,"n":6644600,"c":1},{"e":494850,"n":6644600,"c":1},{"e":494950,"n":6644600,"c":1},{"e":495050,"n":6644600,"c":2},{"e":495150,"n":6644600,"c":1},{"e":495250,"n":6644600,"c":1},{"e":495350,"n":6644600,"c":1},{"e":495450,"n":6644600,"c":1},{"e":495550,"n":6644600,"c":1},{"e":495650,"n":6644600,"c":1},
{"e":494350,"n":6644400,"c":1},{"e":494450,"n":6644400,"c":1},{"e":494550,"n":6644400,"c":1},{"e":494650,"n":6644400,"c":1},{"e":494750,"n":6644400,"c":1},{"e":494850,"n":6644400,"c":1},{"e":494950,"n":6644400,"c":1},{"e":495050,"n":6644400,"c":1},{"e":495150,"n":6644400,"c":1},{"e":495250,"n":6644400,"c":1},{"e":495350,"n":6644400,"c":3},{"e":495450,"n":6644400,"c":1},{"e":495550,"n":6644400,"c":1},{"e":495650,"n":6644400,"c":1},
{"e":494350,"n":6644200,"c":1},{"e":494450,"n":6644200,"c":1},{"e":494550,"n":6644200,"c":1},{"e":494650,"n":6644200,"c":1},{"e":494750,"n":6644200,"c":1},{"e":494850,"n":6644200,"c":1},{"e":494950,"n":6644200,"c":1},{"e":495050,"n":6644200,"c":1},{"e":495150,"n":6644200,"c":1},{"e":495250,"n":6644200,"c":1},{"e":495350,"n":6644200,"c":1},{"e":495450,"n":6644200,"c":1},{"e":495550,"n":6644200,"c":1},{"e":495650,"n":6644200,"c":1},{"e":495725,"n":6644200,"c":1},
{"e":494650,"n":6644000,"c":1},{"e":494750,"n":6644000,"c":1},{"e":494850,"n":6644000,"c":1},{"e":494950,"n":6644000,"c":1},{"e":495050,"n":6644000,"c":1},{"e":495150,"n":6644000,"c":1},{"e":495250,"n":6644000,"c":2},{"e":495350,"n":6644000,"c":6},{"e":495450,"n":6644000,"c":1},{"e":495550,"n":6644000,"c":1},{"e":495650,"n":6644000,"c":1},{"e":495725,"n":6644000,"c":1}
]},"spacing":31,"vconcat":[{"spacing":0,"hconcat":[{"width":1,"height":1,"data":{"values":[]},"mark":"point","encoding":{}},{"spacing":52,"hconcat":[{"bounds":"flush","spacing":0,"vconcat":[{"width":804.5,"height":32,"data":{"values":[]},"mark":"point","encoding":{}},{"width":804.5,"height":676.5,"view":{"stroke":"#c4c4c4","strokeWidth":2},"title":{"text":"Pt_ppm","fontSize":35,"fontWeight":"bold","color":"#111","offset":12,"dx":-75,"anchor":"middle","font":"Liberation Sans"},"encoding":{"x":{"field":"e","type":"quantitative","scale":{"domain":[491080,497633],"nice":false,"zero":false},"axis":{"title":"MGAE","format":",d","values":[492000,493000,494000,495000,496000,497000],"titleFontSize":21,"titleFontWeight":"normal","titleColor":"#333","titlePadding":11,"labelFontSize":21,"labelColor":"#333","labelPadding":6.5,"tickColor":"#aaa","tickSize":4,"domain":false,"gridColor":"#d4d4d4","gridDash":[4,4]}},"y":{"field":"n","type":"quantitative","scale":{"domain":[6643847,6649367],"nice":false,"zero":false},"axis":{"title":"MGAN","format":",d","values":[6644000,6644500,6645000,6645500,6646000,6646500,6647000,6647500,6648000,6648500,6649000],"titleFontSize":21,"titleFontWeight":"normal","titleColor":"#333","titlePadding":10,"labelFontSize":21,"labelColor":"#333","labelPadding":10,"tickColor":"#aaa","tickSize":4,"domain":false,"gridColor":"#d4d4d4","gridDash":[4,4]}}},"layer":[{"data":{"name":"pt"},"mark":{"type":"point","filled":true,"opacity":1,"strokeWidth":0},"encoding":{"order":{"field":"c","type":"quantitative"},"color":{"field":"c","type":"ordinal","legend":null,"scale":{"domain":[1,2,3,4,5,6,7],"range":["#0000ff","#0080ff","#00ffff","#00ff00","#ffff00","#ff0000","#ff00ff"]}},"size":{"field":"c","type":"ordinal","legend":null,"scale":{"type":"ordinal","domain":[1,2,3,4,5,6,7],"range":[64,225,350,441,529,530,625]}}}},{"data":{"values":[{"e":491664,"e2":493720,"n":6644895,"n2":6644479}]},"mark":{"type":"rect","fill":"white","stroke":"#333","strokeWidth":1.5},"encoding":{"x2":{"field":"e2"},"y2":{"field":"n2"}}},{"data":{"values":[{"e":492651,"n":6644683,"t":"High priority D1 Target"}]},"mark":{"type":"text","font":"Lato","fontWeight":"bold","fontSize":19.8,"color":"#111"},"encoding":{"text":{"field":"t"}}},{"data":{"values":[{"e":493626,"n":6644653},{"e":494296,"n":6644960}]},"mark":{"type":"line","color":"#ff0000","strokeWidth":12,"strokeCap":"butt"},"encoding":{}},{"data":{"values":[{"e":494427,"n":6645018}]},"mark":{"type":"point","filled":true,"opacity":1,"strokeWidth":0,"fill":"#ff0000","shape":"M0,-1.06L-1,1.06L1,1.06Z","size":1156,"angle":66},"encoding":{}}]}]},{"spacing":17.5,"hconcat":[{"width":40,"height":735,"data":{"values":[{"p":99.5,"d":4},{"p":95,"d":3},{"p":90,"d":2},{"p":80,"d":1}]},"mark":{"type":"point","filled":true,"opacity":1,"color":"black","strokeWidth":0},"encoding":{"y":{"field":"p","type":"quantitative","scale":{"domain":[0,99.66],"nice":false,"zero":false},"axis":null},"size":{"field":"d","type":"ordinal","legend":null,"scale":{"type":"ordinal","domain":[1,2,3,4],"range":[36,196,324,529]}},"shape":{"field":"d","type":"ordinal","legend":null,"scale":{"domain":[1,2,3,4],"range":["square","circle","circle","circle"]}}}},{"width":59,"height":735,"title":{"text":"Pt_ppm","orient":"bottom","fontSize":19,"fontWeight":"normal","color":"#222","offset":12,"dx":3,"font":"Liberation Sans"},"encoding":{"y":{"field":"lo","type":"quantitative","title":null,"scale":{"domain":[0,99.66],"nice":false,"zero":false},"axis":{"orient":"right","values":[0,80,90,95,99.5],"labelExpr":"datum.value==0?'2.5E-4':datum.value==80?'0.0085':datum.value==90?'0.013':datum.value==95?'0.018':'0.037'","labelFontSize":17.5,"labelColor":"#333","tickColor":"black","tickSize":8,"domainColor":"black","domainWidth":2,"grid":false,"labelPadding":2}}},"layer":[{"data":{"values":[{"lo":0,"hi":80,"c":1},{"lo":80,"hi":90,"c":2},{"lo":90,"hi":95,"c":3},{"lo":95,"hi":98,"c":4},{"lo":98,"hi":99,"c":5},{"lo":99,"hi":99.66,"c":6}]},"mark":{"type":"rect"},"encoding":{"y2":{"field":"hi"},"color":{"field":"c","type":"ordinal","legend":null,"scale":{"domain":[1,2,3,4,5,6],"range":["#0000ff","#0080ff","#00ffff","#00ff00","#ffff00","#ff0000"]}}}},{"data":{"values":[{"lo":80},{"lo":90},{"lo":95},{"lo":98}]},"mark":{"type":"rule","color":"#111","strokeWidth":2},"encoding":{}},{"data":{"values":[{"lo":40,"t":"80"},{"lo":85,"t":"10"},{"lo":92.5,"t":"5"},{"lo":96.5,"t":"3"}]},"mark":{"type":"text","fontSize":12,"color":"#111"},"encoding":{"text":{"field":"t"}}}]}]}]}]},{"spacing":0,"hconcat":[{"width":7,"height":1,"data":{"values":[]},"mark":"point","encoding":{}},{"spacing":51,"hconcat":[{"bounds":"flush","spacing":0,"vconcat":[{"width":804.6,"height":31.7,"data":{"values":[]},"mark":"point","encoding":{}},{"width":804.6,"height":668,"view":{"stroke":"#c4c4c4","strokeWidth":2},"title":{"text":"Pd_ppm","fontSize":35,"fontWeight":"bold","color":"#111","offset":12,"dx":-75,"anchor":"middle","font":"Liberation Sans"},"encoding":{"x":{"field":"e","type":"quantitative","scale":{"domain":[491022,497700],"nice":false,"zero":false},"axis":{"title":"MGAE","format":",d","values":[492000,493000,494000,495000,496000,497000],"titleFontSize":21,"titleFontWeight":"normal","titleColor":"#333","titlePadding":11,"labelFontSize":21,"labelColor":"#333","labelPadding":6.5,"tickColor":"#aaa","tickSize":4,"domain":false,"gridColor":"#d4d4d4","gridDash":[4,4]}},"y":{"field":"n","type":"quantitative","scale":{"domain":[6643849,6649369],"nice":false,"zero":false},"axis":{"title":"MGAN","format":",d","values":[6644000,6644500,6645000,6645500,6646000,6646500,6647000,6647500,6648000,6648500,6649000],"titleFontSize":21,"titleFontWeight":"normal","titleColor":"#333","titlePadding":10,"labelFontSize":21,"labelColor":"#333","labelPadding":10,"tickColor":"#aaa","tickSize":4,"domain":false,"gridColor":"#d4d4d4","gridDash":[4,4]}}},"layer":[{"data":{"name":"pd"},"mark":{"type":"point","filled":true,"opacity":1,"strokeWidth":0},"encoding":{"order":{"field":"c","type":"quantitative"},"color":{"field":"c","type":"ordinal","legend":null,"scale":{"domain":[1,2,3,4,5,6,7],"range":["#0000ff","#0080ff","#00ffff","#00ff00","#ffff00","#ff0000","#ff00ff"]}},"size":{"field":"c","type":"ordinal","legend":null,"scale":{"type":"ordinal","domain":[1,2,3,4,5,6,7],"range":[64,225,350,441,529,530,625]}}}},{"data":{"values":[{"e":491570,"e2":493661,"n":6644901,"n2":6644493}]},"mark":{"type":"rect","fill":"white","stroke":"#333","strokeWidth":1.5},"encoding":{"x2":{"field":"e2"},"y2":{"field":"n2"}}},{"data":{"values":[{"e":492574,"n":6644700,"t":"High priority D1 Target"}]},"mark":{"type":"text","font":"Lato","fontWeight":"bold","fontSize":19.8,"color":"#111"},"encoding":{"text":{"field":"t"}}},{"data":{"values":[{"e":493570,"n":6644673},{"e":494253,"n":6644975}]},"mark":{"type":"line","color":"#ff0000","strokeWidth":12,"strokeCap":"butt"},"encoding":{}},{"data":{"values":[{"e":494389,"n":6645030}]},"mark":{"type":"point","filled":true,"opacity":1,"strokeWidth":0,"fill":"#ff0000","shape":"M0,-1.06L-1,1.06L1,1.06Z","size":1156,"angle":67},"encoding":{}}]}]},{"spacing":15.5,"hconcat":[{"width":40,"height":725.7,"data":{"values":[{"p":99.5,"d":4},{"p":95,"d":3},{"p":90,"d":2},{"p":80,"d":1}]},"mark":{"type":"point","filled":true,"opacity":1,"color":"black","strokeWidth":0},"encoding":{"y":{"field":"p","type":"quantitative","scale":{"domain":[0,99.7],"nice":false,"zero":false},"axis":null},"size":{"field":"d","type":"ordinal","legend":null,"scale":{"type":"ordinal","domain":[1,2,3,4],"range":[25,169,324,484]}},"shape":{"field":"d","type":"ordinal","legend":null,"scale":{"domain":[1,2,3,4],"range":["square","circle","circle","circle"]}}}},{"width":58,"height":725.7,"title":{"text":"Pd_ppm","orient":"bottom","fontSize":19,"fontWeight":"normal","color":"#222","offset":12,"dx":5,"font":"Liberation Sans"},"encoding":{"y":{"field":"lo","type":"quantitative","title":null,"scale":{"domain":[0,99.7],"nice":false,"zero":false},"axis":{"orient":"right","values":[0,80,90,95,99.5],"labelExpr":"datum.value==0?'5E-4':datum.value==80?'0.011':datum.value==90?'0.018':datum.value==95?'0.023':'0.054'","labelFontSize":17.5,"labelColor":"#333","tickColor":"black","tickSize":8,"domainColor":"black","domainWidth":2,"grid":false,"labelPadding":2}}},"layer":[{"data":{"values":[{"lo":0,"hi":80,"c":1},{"lo":80,"hi":90,"c":2},{"lo":90,"hi":95,"c":3},{"lo":95,"hi":98,"c":4},{"lo":98,"hi":99.1,"c":5},{"lo":99.1,"hi":99.7,"c":6}]},"mark":{"type":"rect"},"encoding":{"y2":{"field":"hi"},"color":{"field":"c","type":"ordinal","legend":null,"scale":{"domain":[1,2,3,4,5,6],"range":["#0000ff","#0080ff","#00ffff","#00ff00","#ffff00","#ff0000"]}}}},{"data":{"values":[{"lo":80},{"lo":90},{"lo":95},{"lo":98}]},"mark":{"type":"rule","color":"#111","strokeWidth":2},"encoding":{}},{"data":{"values":[{"lo":40,"t":"80"},{"lo":85,"t":"10"},{"lo":92.5,"t":"5"},{"lo":96.5,"t":"3"}]},"mark":{"type":"text","fontSize":12,"color":"#111"},"encoding":{"text":{"field":"t"}}}]}]}]}]}]}
